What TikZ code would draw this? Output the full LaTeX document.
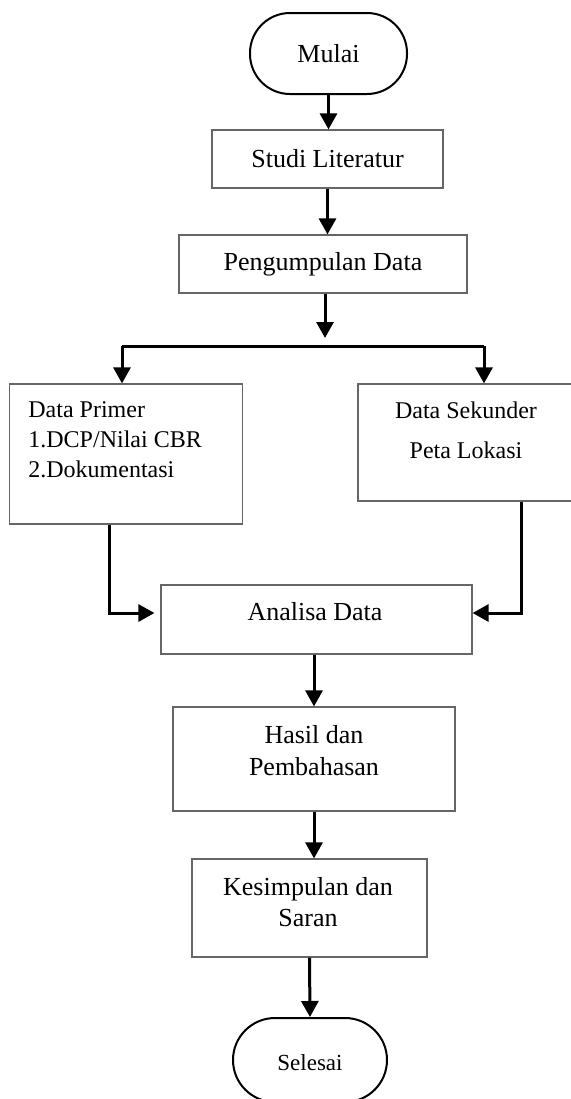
\documentclass[tikz,border=0pt]{standalone}
\usepackage{fontspec}
\setmainfont{Liberation Serif}
\usepackage{tikz}
\usetikzlibrary{arrows.meta,positioning,calc}

\begin{document}
\begin{tikzpicture}[x=0.5pt,y=-0.5pt,
  >={Triangle[width=8.5pt,length=8pt]},
  terminal/.style={draw=black,line width=1pt,inner sep=0pt},
  kotak/.style={draw=black!60,line width=0.6pt,inner sep=0pt},
  teks/.style={inner sep=0pt,font=\fontsize{13}{16}\selectfont},
  garis/.style={line width=1.5pt}]
\useasboundingbox (0,0) rectangle (571,1099);
\node[terminal,teks,minimum width=78.5pt,minimum height=40.5pt,rounded corners=20pt] (mulai) at (328.5,53.5) {Mulai};
\node[kotak,teks,minimum width=115.5pt,minimum height=29pt] (studi) at (327.5,159) {Studi Literatur};
\node[kotak,teks,minimum width=144pt,minimum height=29pt] (kumpul) at (323,264) {Pengumpulan Data};
\node[kotak,minimum width=116.5pt,minimum height=70pt] (primer) at (126,454) {};
\node[kotak,minimum width=107pt,minimum height=58.5pt] (sekunder) at (465,442.5) {};
\node[kotak,minimum width=155.5pt,minimum height=34.5pt] (analisa) at (316.5,619.5) {};
\node[kotak,minimum width=141pt,minimum height=52pt] (hasil) at (314,759) {};
\node[kotak,minimum width=117.5pt,minimum height=49pt] (simpul) at (309.5,908) {};
\node[terminal,minimum width=77pt,minimum height=42pt,rounded corners=21pt] (selesai) at (310,1060) {};
\node[teks,font=\fontsize{12}{15}\selectfont,align=left,anchor=west] (t-primer) at (28,440) {Data Primer\\1.DCP/Nilai CBR\\2.Dokumentasi};
\node[teks,font=\fontsize{12}{15}\selectfont,align=center] (t-sekunder) at (466,430) {Data Sekunder\\[5pt]Peta Lokasi};
\node[teks] (t-analisa) at (315,612) {Analisa Data};
\node[teks,align=center] (t-hasil) at (314,751) {Hasil dan\\Pembahasan};
\node[teks,align=center,font=\fontsize{13}{15.5}\selectfont] (t-simpul) at (308,902.5) {Kesimpulan dan\\Saran};
\node[teks,font=\fontsize{11.5}{14}\selectfont] (t-selesai) at (310,1063) {Selesai};
\coordinate (cabang) at (325,338);
\coordinate (kiri) at (122,346);
\coordinate (kanan) at (484,346);
\draw[garis,->] (mulai.south) -- (mulai.south |- studi.north);
\draw[garis,->] (studi.south) -- (studi.south |- kumpul.north);
\draw[garis,->] (kumpul.south -| cabang) -- (cabang);
\draw[garis] (kiri) -- (kanan);
\draw[garis,->] (kiri) -- (kiri |- primer.north);
\draw[garis,->] (kanan) -- (kanan |- sekunder.north);
\draw[garis,->] ([xshift=-8.5pt]primer.south) |- ([xshift=-3pt,yshift=3.25pt]analisa.west);
\draw[garis,->] ([xshift=28pt]sekunder.south) |- ([yshift=3.25pt]analisa.east);
\draw[garis,->] (hasil.north |- analisa.south) -- (hasil.north);
\draw[garis,->] (hasil.south) -- (hasil.south |- simpul.north);
\draw[garis,->] (simpul.south) -- (selesai.north);
\end{tikzpicture}
\end{document}
